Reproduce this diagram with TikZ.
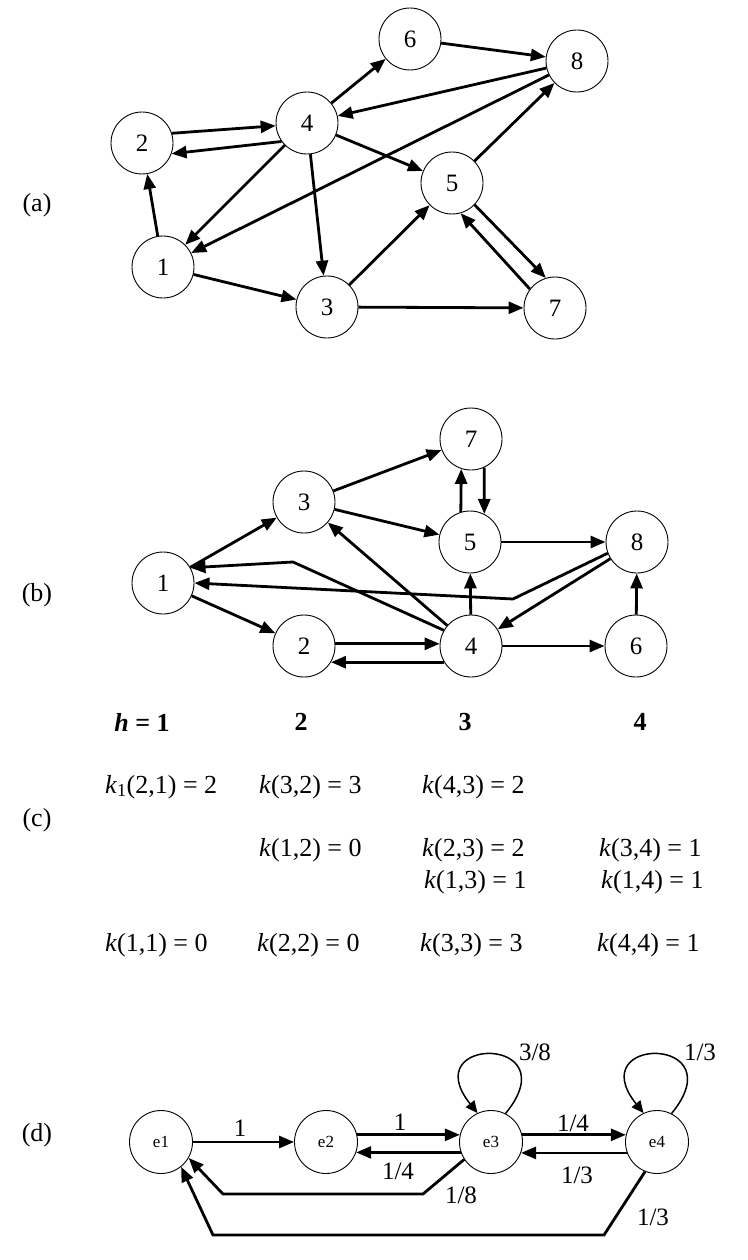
\documentclass[tikz,border=0pt]{standalone}
\usepackage{fontspec}
\setmainfont{Liberation Serif}
\usetikzlibrary{arrows.meta}
\begin{document}
\begin{tikzpicture}[x=1pt,y=-1pt,
  nd/.style={circle,draw,line width=0.9pt,minimum size=62pt,inner sep=0pt,font=\fontsize{25}{25}\selectfont},
  en/.style={circle,draw,line width=0.9pt,minimum size=63pt,inner sep=0pt,font=\fontsize{17}{17}\selectfont},
  ar/.style={line width=2.8pt,-{Triangle[length=15pt,width=12pt]}},
  lp/.style={line width=1.5pt,-{Triangle[length=12pt,width=11pt]}},
  lab/.style={font=\fontsize{25}{25}\selectfont,inner sep=0pt},
  plab/.style={font=\fontsize{26}{26}\selectfont,inner sep=0pt},
  eq/.style={font=\fontsize{26}{26}\selectfont,anchor=west,inner sep=0pt},
  hd/.style={font=\fontsize{26}{26}\selectfont\bfseries,inner sep=0pt}
]
\useasboundingbox (0,0) rectangle (747,1260);

% part labels
\node[plab] (la) at (37,205) {(a)};
\node[plab] (lb) at (37,595) {(b)};
\node[plab] (lc) at (37,820) {(c)};
\node[plab] (ld) at (37,1135) {(d)};

% (a)
\node[nd] (a1) at (163,267) {1};
\node[nd] (a2) at (142,143) {2};
\node[nd] (a3) at (327,307) {3};
\node[nd] (a4) at (307,123) {4};
\node[nd] (a5) at (452,183) {5};
\node[nd] (a6) at (410,39) {6};
\node[nd] (a7) at (555,308) {7};
\node[nd] (a8) at (577,61) {8};
\draw[ar] (a6) -- (a8);
\draw[ar] (a8) -- (a4);
\draw[ar] (a4) -- (a6);
\draw[ar] (a2.18) -- (a4.185);
\draw[ar] (a4.216) -- (a2.340);
\draw[ar] (a4) -- (a1);
\draw[ar] (a8) -- (a1);
\draw[ar] (a4) -- (a5);
\draw[ar] (a4) -- (a3);
\draw[ar] (a1) -- (a2);
\draw[ar] (a1) -- (a3);
\draw[ar] (a3) -- (a5);
\draw[ar] (a5) -- (a8);
\draw[ar] (a5.316) -- (a7.107);
\draw[ar] (a7.143) -- (a5.286);
\draw[ar] (a3) -- (a7);

% (b)
\node[nd] (b1) at (163,583) {1};
\node[nd] (b2) at (304,646) {2};
\node[nd] (b3) at (304,502) {3};
\node[nd] (b4) at (471,646) {4};
\node[nd] (b5) at (470,542) {5};
\node[nd] (b6) at (636,646) {6};
\node[nd] (b7) at (471,439) {7};
\node[nd] (b8) at (637,542) {8};
\draw[ar] (b1) -- (b3);
\draw[ar] (b3) -- (b7);
\draw[ar] (b3) -- (b5);
\draw[ar] (b5.107) -- (b7.252);
\draw[ar] (b7.295) -- (b5.63);
\draw[ar] (b5) -- (b8);
\draw[ar] (b1) -- (b2);
\draw[ar] (b2.4) -- (b4.176);
\draw[ar] (b4.211) -- (b2.329);
\draw[ar] (b4) -- (b6);
\draw[ar] (b6) -- (b8);
\draw[ar] (b4) -- (b5);
\draw[ar] (b4) -- (b3);
\draw[ar] (b8) -- (b4);
\coordinate (bk1) at (293,562);
\draw[ar] (b4.150) -- (bk1) -- (b1.29);
\coordinate (bk2) at (513,599);
\draw[ar] (b8.201) -- (bk2) -- (b1.east);

% (c)
\node[hd] (h1) at (142,722) {\textit{h} = 1};
\node[hd] (h2) at (301,722) {2};
\node[hd] (h3) at (465,722) {3};
\node[hd] (h4) at (640,722) {4};
\node[eq] (k21) at (105,787) {\textit{k}\textsubscript{1}(2,1) = 2};
\node[eq] (k32) at (259,787) {\textit{k}(3,2) = 3};
\node[eq] (k43) at (422,787) {\textit{k}(4,3) = 2};
\node[eq] (k12) at (259,850) {\textit{k}(1,2) = 0};
\node[eq] (k23) at (422,850) {\textit{k}(2,3) = 2};
\node[eq] (k34) at (599,850) {\textit{k}(3,4) = 1};
\node[eq] (k13) at (424,882) {\textit{k}(1,3) = 1};
\node[eq] (k14) at (601,882) {\textit{k}(1,4) = 1};
\node[eq] (k11) at (105,945) {\textit{k}(1,1) = 0};
\node[eq] (k22) at (257,945) {\textit{k}(2,2) = 0};
\node[eq] (k33) at (420,945) {\textit{k}(3,3) = 3};
\node[eq] (k44) at (597,945) {\textit{k}(4,4) = 1};

% (d)
\node[en] (e1) at (161,1142) {e1};
\node[en] (e2) at (326,1142) {e2};
\node[en] (e3) at (491,1142) {e3};
\node[en] (e4) at (657,1142) {e4};
\draw[ar] (e1) -- (e2);
\draw[ar] (e2.13) -- (e3.167);
\draw[ar] (e3.199) -- (e2.341);
\draw[ar] (e3.13) -- (e4.167);
\draw[ar] (e4.200) -- (e3.340);
\coordinate (d1) at (423,1194);
\coordinate (d2) at (223,1194);
\draw[ar] (e3.213) -- (d1) -- (d2) -- (e1.330);
\coordinate (d3) at (604,1235);
\coordinate (d4) at (213,1235);
\draw[ar] (e4.248) -- (d3) -- (d4) -- (e1.309);
\draw[lp] (e3.63) .. controls (570,1035) and (415,1035) .. (e3.115);
\draw[lp] (e4.63) .. controls (736,1035) and (581,1035) .. (e4.115);
\node[lab] (t1) at (240,1128) {1};
\node[lab] (t2) at (400,1122) {1};
\node[lab] (t3) at (398,1171) {1/4};
\node[lab] (t4) at (573,1123) {1/4};
\node[lab] (t5) at (577,1175) {1/3};
\node[lab] (t6) at (461,1195) {1/8};
\node[lab] (t7) at (653,1217) {1/3};
\node[lab] (t8) at (535,1052) {3/8};
\node[lab] (t9) at (700,1052) {1/3};
\end{tikzpicture}
\end{document}
